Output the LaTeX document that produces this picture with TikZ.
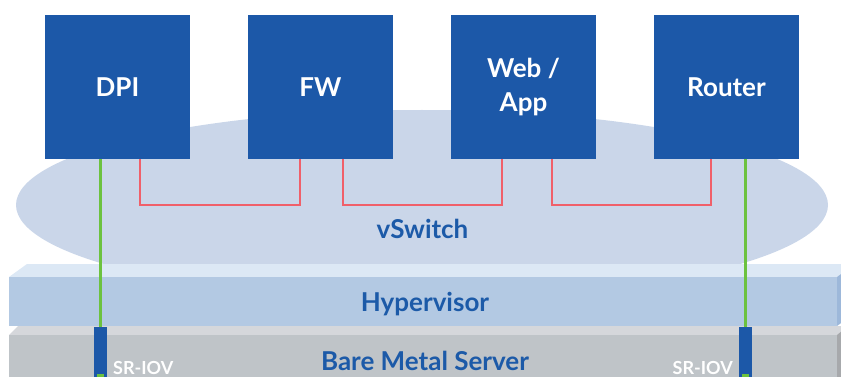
\documentclass[tikz,border=0pt]{standalone}
\usepackage{fontspec}
\setmainfont{Lato}
\usetikzlibrary{shapes.geometric}
\definecolor{boxblue}{HTML}{1C58A8}
\definecolor{txtblue}{HTML}{1C5AA8}
\definecolor{ellfill}{HTML}{CAD6E9}
\definecolor{hvfront}{HTML}{B3C9E3}
\definecolor{hvtop}{HTML}{DCE8F5}
\definecolor{hvside}{HTML}{9DB8DA}
\definecolor{bmfront}{HTML}{BFC4C8}
\definecolor{bmtop}{HTML}{D5D7DB}
\definecolor{bmside}{HTML}{A7A9AC}
\definecolor{redline}{HTML}{F0606A}
\definecolor{greenline}{HTML}{6CC23F}
\tikzset{
  vnf/.style={fill=boxblue, minimum width=145pt, minimum height=144pt, inner sep=0pt,
    text=white, font=\fontsize{26}{34}\selectfont\bfseries, align=center},
  layerlabel/.style={text=txtblue, font=\fontsize{26}{30}\selectfont\bfseries, anchor=base, inner sep=0pt},
  srlabel/.style={text=white, font=\fontsize{18}{20}\selectfont\bfseries, inner sep=0pt},
  redlink/.style={draw=redline, line width=2.2pt},
  greenlink/.style={draw=greenline, line width=2.2pt},
  srbar/.style={fill=boxblue, minimum width=13pt, minimum height=52pt, inner sep=0pt, anchor=north},
}
\begin{document}
\begin{tikzpicture}[x=1pt, y=-1pt]
\useasboundingbox (0,0) rectangle (841,377);
\begin{scope}
\clip (0,0) rectangle (841,377);
% vSwitch ellipse
\node[ellipse, fill=ellfill, minimum width=812pt, minimum height=190pt, inner sep=0pt] (vsw) at (422,205) {};
% Hypervisor slab
\fill[hvtop] (9,277) -- (27,264) -- (860,264) -- (837,277) -- cycle;
\fill[hvside] (837,277) -- (855,264) -- (855,313) -- (837,326) -- cycle;
\fill[hvfront] (9,277) rectangle (837,326);
% Bare metal slab
\fill[bmtop] (9,335) -- (18,326) -- (860,326) -- (837,335) -- cycle;
\fill[bmside] (837,335) -- (848,326) -- (848,380) -- (837,380) -- cycle;
\fill[bmfront] (9,335) rectangle (837,380);
\end{scope}
% labels of layers
\node[layerlabel] (vswl) at (422.5,238) {vSwitch};
\node[layerlabel] (hvl) at (425,311) {Hypervisor};
\node[layerlabel] (bml) at (425,370) {Bare Metal Server};
% VNF boxes
\node[vnf] (dpi) at (117.5,87) {DPI};
\node[vnf] (fw) at (320.5,87) {FW};
\node[vnf] (web) at (523.5,87) {Web /\\App};
\node[vnf] (router) at (726.5,87) {Router};
% helper coordinates
\coordinate (xa) at (140,0);
\coordinate (xb) at (300,0);
\coordinate (xc) at (343,0);
\coordinate (xd) at (502,0);
\coordinate (xe) at (552,0);
\coordinate (xf) at (711,0);
\coordinate (ylow) at (0,205);
% red vSwitch links
\draw[redlink] (dpi.south -| xa) -- (ylow -| xa) -- (ylow -| xb) -- (fw.south -| xb);
\draw[redlink] (fw.south -| xc) -- (ylow -| xc) -- (ylow -| xd) -- (web.south -| xd);
\draw[redlink] (web.south -| xe) -- (ylow -| xe) -- (ylow -| xf) -- (router.south -| xf);
% SR-IOV bars
\node[srbar] (sr1) at (100.5,327) {};
\node[srbar] (sr2) at (745.5,327) {};
\fill[greenline] (97,374) rectangle (104,377);
\fill[greenline] (742,374) rectangle (749,377);
% green links
\draw[greenlink] (dpi.south -| sr1.north) -- (sr1.north);
\draw[greenlink] (router.south -| sr2.north) -- (sr2.north);
% SR-IOV labels
\node[srlabel, anchor=base west] (srl1) at (113,374) {SR-IOV};
\node[srlabel, anchor=base east] (srl2) at (733,374) {SR-IOV};
\end{tikzpicture}
\end{document}
